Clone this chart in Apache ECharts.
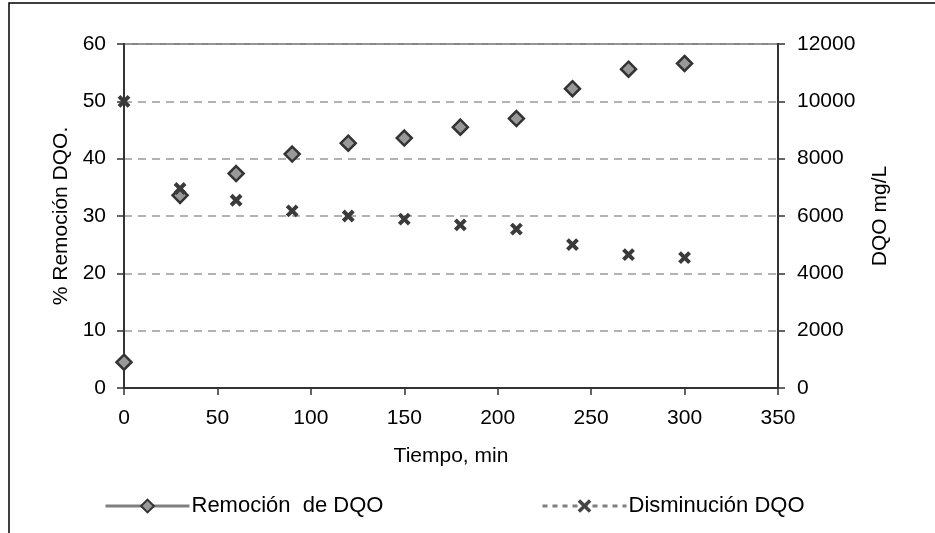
<!DOCTYPE html>
<html>
<head>
<meta charset="utf-8">
<script src="https://cdn.jsdelivr.net/npm/echarts@6/dist/echarts.min.js"></script>
<style>
html,body{margin:0;padding:0;background:#fff;}
#chart{width:935px;height:533px;}
</style>
</head>
<body>
<div id="chart"></div>
<script>
// ---- data ----
const tiempo = [0, 30, 60, 90, 120, 150, 180, 210, 240, 270, 300];
const remocion = [4.5, 33.6, 37.4, 40.8, 42.7, 43.6, 45.5, 47.0, 52.2, 55.6, 56.6];
const disminucion = [10000, 6960, 6550, 6180, 6000, 5890, 5690, 5540, 5000, 4650, 4550];
const xTicks = [0, 350, 50];
const leftTicks = [0, 60, 10];
const rightTicks = [0, 12000, 2000];
const seriesNames = ['Remoción  de DQO', 'Disminución DQO'];
const xName = 'Tiempo, min';
const leftName = '% Remoción DQO.';
const rightName = 'DQO mg/L';

const FONT = 'Liberation Sans, Arial, sans-serif';
const crossPath = 'path://M0,0L10,10M10,0L0,10';

const chart = echarts.init(document.getElementById('chart'), null, {renderer: 'canvas'});
const txt = {color: '#000', fontFamily: FONT, fontSize: 21};
const legTxt = {color: '#000', fontFamily: FONT, fontSize: 22, padding: [0, 0, 0, -3]};

chart.setOption({
  backgroundColor: '#fff',
  animation: false,
  textStyle: {fontFamily: FONT},
  graphic: [{
    type: 'polyline',
    shape: {points: [[9, 600], [9, 3], [940, 3]]},
    style: {stroke: '#000', lineWidth: 1.5, fill: null},
    silent: true
  }],
  grid: {left: 124, right: 157, top: 44, bottom: 145, show: true, borderColor: '#888', borderWidth: 2, backgroundColor: 'transparent'},
  legend: [{
    left: 99, top: 490, itemWidth: 84, itemHeight: 16, itemGap: 0,
    textStyle: legTxt,
    data: [{name: seriesNames[0], lineStyle: {color: '#808080', width: 3, opacity: 1, type: 'solid'},
            itemStyle: {color: '#999', borderColor: '#333', borderWidth: 2}}]
  }, {
    left: 536, top: 490, itemWidth: 84, itemHeight: 14, itemGap: 0,
    textStyle: legTxt,
    data: [{name: seriesNames[1], lineStyle: {color: '#808080', width: 3, opacity: 1, type: [5, 5]},
            itemStyle: {color: '#555', borderColor: '#444', borderWidth: 3.5}}]
  }],
  xAxis: {
    type: 'value', min: xTicks[0], max: xTicks[1], interval: xTicks[2],
    name: xName, nameLocation: 'middle', nameGap: 58, nameTextStyle: txt,
    axisLine: {show: true, onZero: false, lineStyle: {color: '#333', width: 2}},
    axisTick: {show: true, length: 7, lineStyle: {color: '#333', width: 1.5}},
    axisLabel: Object.assign({margin: 20}, txt),
    splitLine: {show: false}
  },
  yAxis: [{
    type: 'value', min: leftTicks[0], max: leftTicks[1], interval: leftTicks[2],
    name: leftName, nameLocation: 'middle', nameGap: 52, nameRotate: 90, nameTextStyle: txt,
    axisLine: {show: true, onZero: false, lineStyle: {color: '#333', width: 2}},
    axisTick: {show: true, length: 7, lineStyle: {color: '#333', width: 1.5}},
    axisLabel: Object.assign({margin: 18}, txt),
    splitLine: {show: true, lineStyle: {color: '#999', width: 1.5, type: [8, 6]}}
  }, {
    type: 'value', min: rightTicks[0], max: rightTicks[1], interval: rightTicks[2],
    name: rightName, nameLocation: 'middle', nameGap: 92, nameRotate: 90, nameTextStyle: txt,
    position: 'right',
    axisLine: {show: true, onZero: false, lineStyle: {color: '#333', width: 2}},
    axisTick: {show: true, inside: false, length: 7, lineStyle: {color: '#333', width: 1.5}},
    axisLabel: Object.assign({margin: 19, formatter: v => String(v)}, txt),
    splitLine: {show: false}
  }],
  series: [{
    name: seriesNames[0], type: 'line', yAxisIndex: 0,
    data: tiempo.map((t, i) => [t, remocion[i]]),
    symbol: 'diamond', symbolSize: 15,
    lineStyle: {width: 0, opacity: 0},
    itemStyle: {color: '#999', borderColor: '#333', borderWidth: 2.5},
    z: 3
  }, {
    name: seriesNames[1], type: 'line', yAxisIndex: 1,
    data: tiempo.map((t, i) => [t, disminucion[i]]),
    symbol: crossPath, symbolSize: 10,
    lineStyle: {width: 0, opacity: 0},
    itemStyle: {color: '#555', borderColor: '#3a3a3a', borderWidth: 4},
    z: 4
  }]
});
</script>
</body>
</html>
